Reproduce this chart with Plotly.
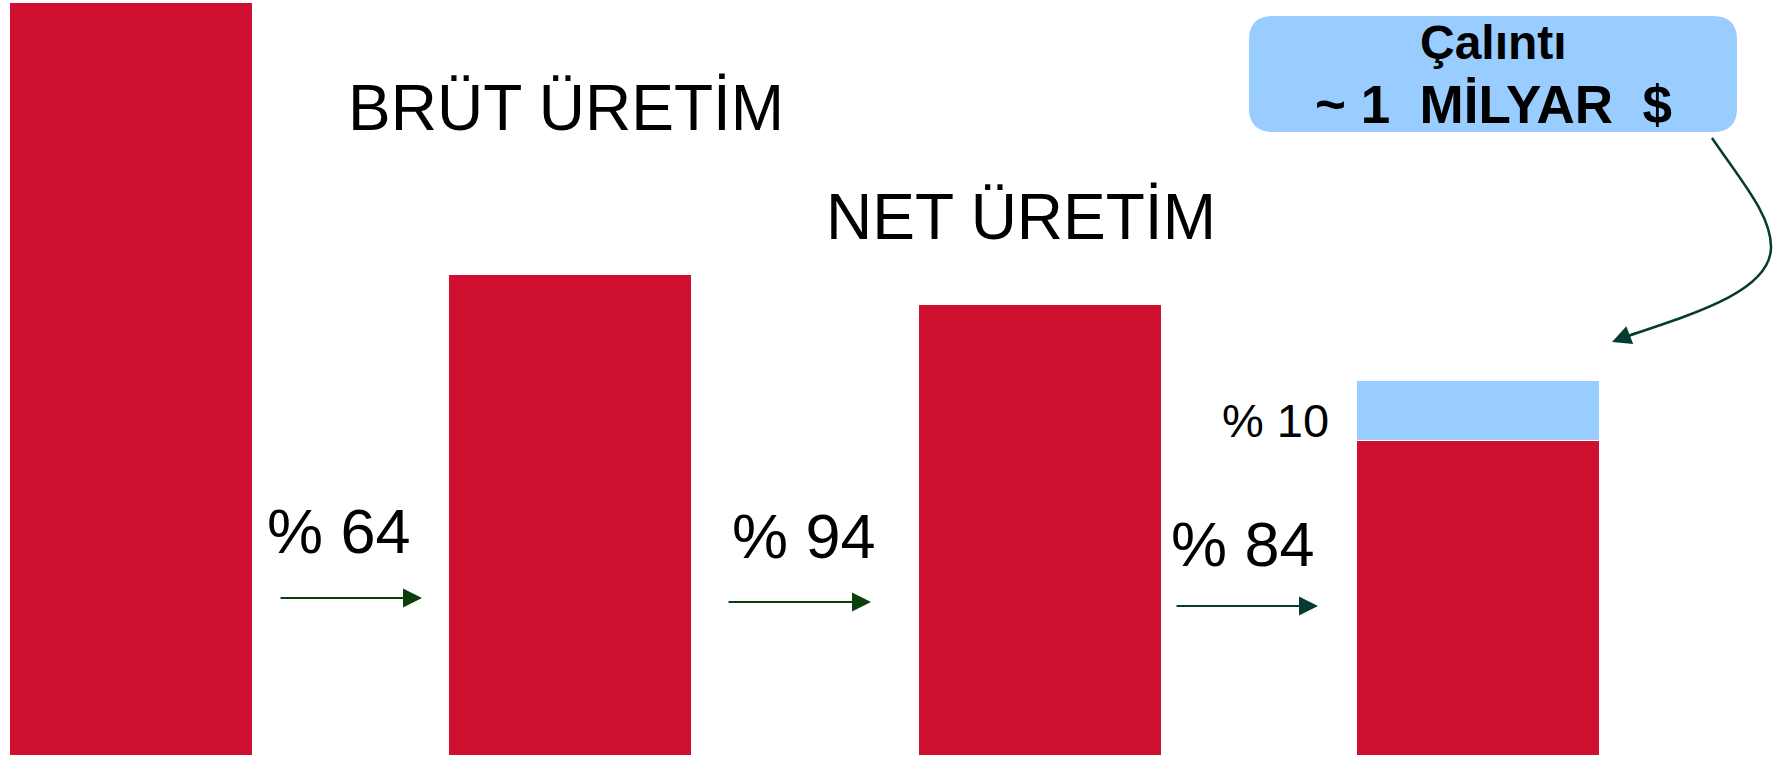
import plotly.graph_objects as go

# ---- data (bar 1 = 100) ----
stages = ["BRÜT ÜRETİM", "NET ÜRETİM", "FATURALANAN", "TAHSİL EDİLEN"]
red_values = [100.0, 63.9, 59.8, 41.8]
blue_values = [0.0, 0.0, 0.0, 8.0]
step_labels = ["% 64", "% 94", "% 84"]
stolen_label = "% 10"
box_line1 = "Çalıntı"
box_line2 = "~ 1\u00a0\u00a0MİLYAR\u00a0\u00a0$"

W, H = 1786, 761
RED = "#D01030"
BLUE = "#99CCFF"
FONT = "Liberation Sans, Arial, sans-serif"
BAR_WIDTH = 0.541
# small per-bar nudges (the slide's bars are not evenly spaced)
BAR_OFFSET = [-0.2705, -0.2928, -0.2460, -0.2705]


def px(x):
    return x / W


def py(y):
    return 1 - y / H


fig = go.Figure()
fig.add_trace(go.Bar(x=stages, y=red_values, marker=dict(color=RED, line=dict(width=0)),
                     width=BAR_WIDTH, offset=BAR_OFFSET, showlegend=False, hoverinfo="skip"))
fig.add_trace(go.Bar(x=stages, y=blue_values, marker=dict(color=BLUE, line=dict(color="white", width=1.5)),
                     width=BAR_WIDTH, offset=BAR_OFFSET, showlegend=False, hoverinfo="skip"))

annotations = []
# titles
annotations.append(dict(x=px(566), y=py(108), xref="paper", yref="paper", text="BRÜT ÜRETİM",
                        showarrow=False, font=dict(family=FONT, size=64, color="black"),
                        xanchor="center", yanchor="middle"))
annotations.append(dict(x=px(1021), y=py(217), xref="paper", yref="paper", text="NET ÜRETİM",
                        showarrow=False, font=dict(family=FONT, size=64, color="black"),
                        xanchor="center", yanchor="middle"))
# step labels and arrows
label_pos = [(339, 531), (804, 536), (1243, 544)]
arrow_pos = [(279, 422, 598, "#0A3F0A"), (727, 871, 602, "#0A3F0A"), (1175, 1318, 606, "#053B30")]
for lab, (lx, ly), (ax0, ax1, ay0, col) in zip(step_labels, label_pos, arrow_pos):
    annotations.append(dict(x=px(lx), y=py(ly), xref="paper", yref="paper", text=lab,
                            showarrow=False, font=dict(family=FONT, size=63, color="black"),
                            xanchor="center", yanchor="middle"))
    annotations.append(dict(x=px(ax1), y=py(ay0), xref="paper", yref="paper", text="",
                            showarrow=True, ax=ax0 - ax1, ay=0, arrowhead=2, arrowsize=1.9,
                            arrowwidth=2, arrowcolor=col, standoff=0))
annotations.append(dict(x=px(1331), y=py(420), xref="paper", yref="paper", text=stolen_label,
                        showarrow=False, font=dict(family=FONT, size=47, color="black"),
                        xanchor="right", yanchor="middle"))
# box text
annotations.append(dict(x=px(1493), y=py(43), xref="paper", yref="paper", text="<b>" + box_line1 + "</b>",
                        showarrow=False, font=dict(family=FONT, size=48, color="black"),
                        xanchor="center", yanchor="middle"))
annotations.append(dict(x=px(1493), y=py(105), xref="paper", yref="paper", text="<b>" + box_line2 + "</b>",
                        showarrow=False, font=dict(family=FONT, size=53, color="black"),
                        xanchor="center", yanchor="middle"))
# curved arrow head
annotations.append(dict(x=px(1612), y=py(342), xref="paper", yref="paper", text="",
                        showarrow=True, ax=26, ay=-10, arrowhead=2, arrowsize=1.9,
                        arrowwidth=2, arrowcolor="#053B30", standoff=0))

# rounded box
x0, x1, y0, y1, r = 1249, 1737, 16, 132, 24
box_path = (f"M {px(x0 + r)},{py(y0)} L {px(x1 - r)},{py(y0)} Q {px(x1)},{py(y0)} {px(x1)},{py(y0 + r)} "
            f"L {px(x1)},{py(y1 - r)} Q {px(x1)},{py(y1)} {px(x1 - r)},{py(y1)} "
            f"L {px(x0 + r)},{py(y1)} Q {px(x0)},{py(y1)} {px(x0)},{py(y1 - r)} "
            f"L {px(x0)},{py(y0 + r)} Q {px(x0)},{py(y0)} {px(x0 + r)},{py(y0)} Z")
curve_path = (f"M {px(1712)},{py(138)} C {px(1742)},{py(182)} {px(1771)},{py(215)} {px(1771)},{py(247)} "
              f"C {px(1771)},{py(290)} {px(1700)},{py(312)} {px(1622)},{py(338)}")
shapes = [
    dict(type="path", path=box_path, xref="paper", yref="paper", fillcolor=BLUE,
         line=dict(width=0), layer="below"),
    dict(type="path", path=curve_path, xref="paper", yref="paper",
         line=dict(color="#053B30", width=2.5)),
]

fig.update_layout(
    width=W, height=H, autosize=False,
    margin=dict(l=0, r=0, t=0, b=0),
    paper_bgcolor="white", plot_bgcolor="white",
    barmode="stack",
    xaxis=dict(range=[-0.2918, 3.686], visible=False, fixedrange=True),
    yaxis=dict(range=[-0.797, 100.266], visible=False, fixedrange=True),
    annotations=annotations,
    shapes=shapes,
)

fig.write_html("out.html", config={"displayModeBar": False},
               post_script="document.body.style.margin='0';document.body.style.overflow='hidden';")
